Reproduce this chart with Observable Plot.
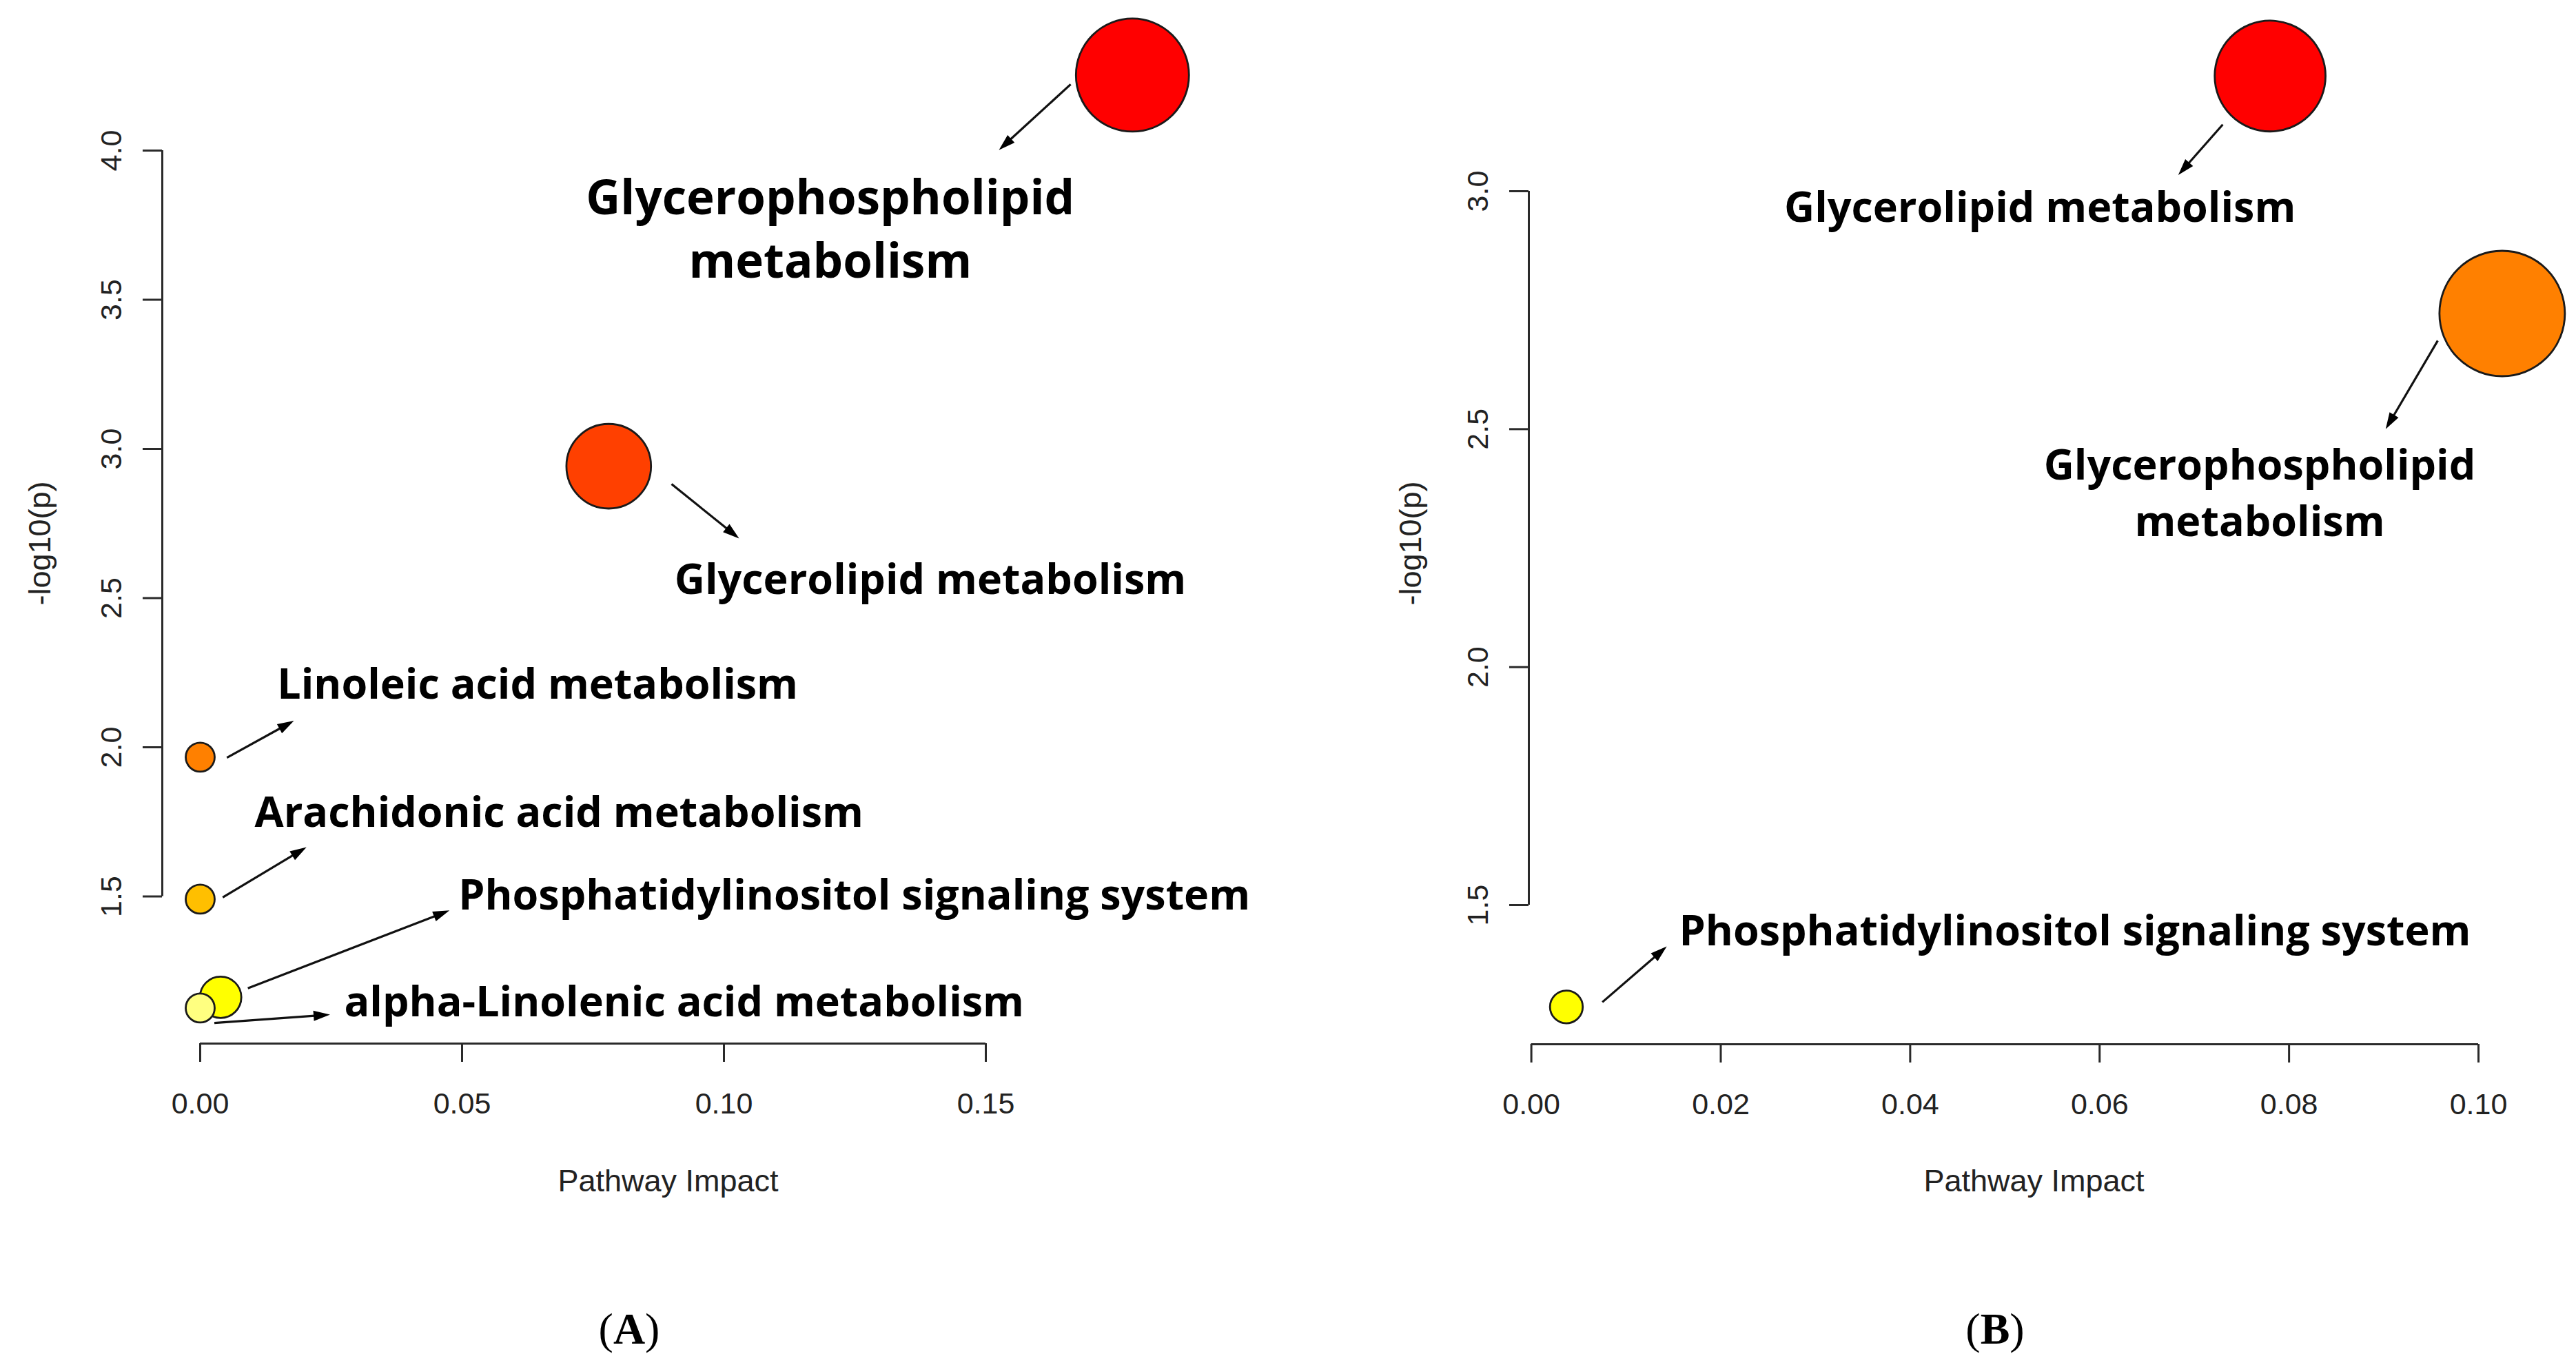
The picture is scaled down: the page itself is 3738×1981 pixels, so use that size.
<!DOCTYPE html>
<html>
<head>
<meta charset="utf-8">
<script src="https://cdn.jsdelivr.net/npm/d3@7"></script>
<script src="https://cdn.jsdelivr.net/npm/@observablehq/plot@0.6"></script>
<style>
  html, body { margin: 0; padding: 0; background: #fff; }
  #fig { position: relative; width: 3738px; height: 1981px; overflow: hidden; background: #fff; }
  .panel { position: absolute; top: 0; }
  .cap { position: absolute; top: 1897px; font-family: "Liberation Serif", "Times New Roman", serif; font-size: 64px; line-height: 1; transform: translateX(-50%); color: #000; }
</style>
</head>
<body>
<div id="fig">
  <div id="panelA" class="panel" style="left:0px"></div>
  <div id="panelB" class="panel" style="left:1869px"></div>
  <div class="cap" style="left:913px">(<b>A</b>)</div>
  <div class="cap" style="left:2895px">(<b>B</b>)</div>
</div>
<script>
// ---------------- Data: panel A ----------------
const pathwaysA = [
  "Glycerophospholipid metabolism",
  "Glycerolipid metabolism",
  "Linoleic acid metabolism",
  "Arachidonic acid metabolism",
  "Phosphatidylinositol signaling system",
  "alpha-Linolenic acid metabolism"
];
const impactA = [0.178, 0.078, 0.0, 0.0, 0.0039, 0.0];
const logpA   = [4.253, 2.942, 1.967, 1.491, 1.162, 1.126];
const xTicksA = [0.00, 0.05, 0.10, 0.15];
const yTicksA = [1.5, 2.0, 2.5, 3.0, 3.5, 4.0];

// ---------------- Data: panel B ----------------
const pathwaysB = [
  "Glycerolipid metabolism",
  "Glycerophospholipid metabolism",
  "Phosphatidylinositol signaling system"
];
const impactB = [0.078, 0.1025, 0.0037];
const logpB   = [3.242, 2.743, 1.286];
const xTicksB = [0.00, 0.02, 0.04, 0.06, 0.08, 0.10];
const yTicksB = [1.5, 2.0, 2.5, 3.0];

// ---------------- Annotation layout (data units) ----------------
// lx/ly: label anchor; sx/sy: arrow start; ax/ay: arrow tip
const annotA = {
  text:   ["Glycerophospholipid\nmetabolism", "Glycerolipid metabolism", "Linoleic acid metabolism",
           "Arachidonic acid metabolism", "Phosphatidylinositol signaling system", "alpha-Linolenic acid metabolism"],
  anchor: ["middle", "middle", "start", "start", "start", "start"],
  lx:     [0.1203, 0.1394, 0.0147, 0.0104, 0.0493, 0.0275],
  ly:     [3.574, 2.515, 2.162, 1.734, 1.455, 1.097],
  sx:     [0.1662, 0.0900, 0.0051, 0.0043, 0.0091, 0.0027],
  sy:     [4.222, 2.882, 1.965, 1.497, 1.192, 1.076],
  ax:     [0.1525, 0.1029, 0.0179, 0.0203, 0.0476, 0.0248],
  ay:     [4.002, 2.700, 2.089, 1.665, 1.453, 1.104],
  size:   [69, 61, 61, 61, 61, 61]
};
const annotB = {
  text:   ["Glycerolipid metabolism", "Glycerophospholipid\nmetabolism", "Phosphatidylinositol signaling system"],
  anchor: ["middle", "middle", "start"],
  lx:     [0.0537, 0.0769, 0.0156],
  ly:     [2.936, 2.276, 1.416],
  sx:     [0.0730, 0.0957, 0.0075],
  sy:     [3.140, 2.686, 1.296],
  ax:     [0.0683, 0.0902, 0.0143],
  ay:     [3.034, 2.500, 1.413],
  size:   [61, 61, 61]
};

// ---------------- Styles ----------------
const heat6 = ["#FF0000", "#FF4000", "#FF8000", "#FFBF00", "#FFFF00", "#FFFF80"];
const heat3 = ["#FF0000", "#FF8000", "#FFFF00"];
const AXIS = "#2a2a2a";
const SANS = "'Liberation Sans', Arial, sans-serif";
const LABELFONT = "'Open Sans', 'Noto Sans', sans-serif";

// filled arrowhead: tip at the origin, pointing up
const HEAD_L = 24, HEAD_W = 15;
const headSymbol = {
  draw(ctx) {
    ctx.moveTo(0, 0);
    ctx.lineTo(HEAD_W / 2, HEAD_L);
    ctx.lineTo(-HEAD_W / 2, HEAD_L);
    ctx.closePath();
  }
};

function panel(cfg) {
  const {names, impact, logp, xTicks, yTicks, annot, palette, W, H,
         xRange, yRange, axisX, axisY, rRange, xFmt, ylab, xlab} = cfg;
  const rows = names.map((n, i) => ({
    name: n, impact: impact[i], logp: logp[i],
    label: annot.text[i], anchor: annot.anchor[i],
    lx: annot.lx[i], ly: annot.ly[i], sx: annot.sx[i], sy: annot.sy[i],
    ax: annot.ax[i], ay: annot.ay[i], size: annot.size[i]
  }));
  const rMax = d3.max(impact);
  const xLast = xTicks[xTicks.length - 1];
  const yLast = yTicks[yTicks.length - 1];
  const X = d3.scaleLinear().domain([xTicks[0], xLast]).range(xRange);
  const Y = d3.scaleLinear().domain([yTicks[0], yLast]).range(yRange);
  const angle = d => Math.atan2(X(d.ax) - X(d.sx), -(Y(d.ay) - Y(d.sy))) * 180 / Math.PI;
  const marginLeft = axisY;
  const marginBottom = H - axisX;
  const marginTop = 20;

  const marks = [
    // axis lines spanning first..last tick (R style)
    Plot.ruleY([yTicks[0]], {x1: xTicks[0], x2: xLast, dy: axisX - yRange[0], stroke: AXIS, strokeWidth: 3}),
    Plot.ruleX([xTicks[0]], {y1: yTicks[0], y2: yLast, dx: axisY - xRange[0], stroke: AXIS, strokeWidth: 3}),
    Plot.axisX({ticks: xTicks, tickFormat: d3.format(xFmt), tickSize: 27, tickPadding: 44, label: null,
                fontSize: 43, fontFamily: SANS, stroke: AXIS, strokeWidth: 3, fill: "#222"}),
    Plot.axisY({ticks: yTicks, tickFormat: d3.format(".1f"), tickSize: 28, tickPadding: 32, tickRotate: -90, label: null,
                fontSize: 43, fontFamily: SANS, stroke: AXIS, strokeWidth: 3, fill: "#222"}),
    // axis titles
    Plot.text([ylab.text], {frameAnchor: "top-left", dx: ylab.x - marginLeft, dy: ylab.y - marginTop,
                rotate: -90, fontSize: 45, fontFamily: SANS, fill: "#222", textAnchor: "middle", lineAnchor: "middle"}),
    Plot.text([xlab.text], {frameAnchor: "top-left", dx: xlab.x - marginLeft, dy: xlab.y - marginTop,
                fontSize: 45, fontFamily: SANS, fill: "#222", textAnchor: "middle", lineAnchor: "middle"}),
    // arrow shafts
    Plot.arrow(rows, {x1: "sx", y1: "sy", x2: "ax", y2: "ay", insetEnd: 12, headLength: 0,
                stroke: "#111", strokeWidth: 3.2, strokeLinecap: "butt"}),
    // filled arrow heads
    Plot.dot(rows, {x: "ax", y: "ay", symbol: headSymbol, rotate: angle, fill: "#000", stroke: "none", r: 8}),
    // bubbles
    Plot.dot(rows, {x: "impact", y: "logp", r: "impact", fill: "name", stroke: "#1a1a1a", strokeWidth: 2.8}),
    // labels
    Plot.text(rows.filter(d => d.anchor === "middle"), {x: "lx", y: "ly", text: "label", textAnchor: "middle",
                lineAnchor: "bottom", lineHeight: 1.33, fontSize: "size", fontWeight: "bold", fontFamily: LABELFONT, fill: "#000"}),
    Plot.text(rows.filter(d => d.anchor === "start"), {x: "lx", y: "ly", text: "label", textAnchor: "start",
                lineAnchor: "bottom", lineHeight: 1.33, fontSize: "size", fontWeight: "bold", fontFamily: LABELFONT, fill: "#000"})
  ];

  return Plot.plot({
    width: W, height: H,
    marginLeft, marginBottom, marginTop, marginRight: 20,
    x: {domain: [xTicks[0], xLast], range: xRange},
    y: {domain: [yTicks[0], yLast], range: yRange},
    r: {type: "sqrt", domain: [0, rMax], range: rRange},
    color: {type: "ordinal", domain: names, range: palette},
    style: {background: "transparent", overflow: "visible", color: AXIS},
    marks
  });
}

document.getElementById("panelA").appendChild(panel({
  names: pathwaysA, impact: impactA, logp: logpA, xTicks: xTicksA, yTicks: yTicksA,
  annot: annotA, palette: heat6, W: 1869, H: 1860,
  xRange: [290, 1430], yRange: [1300.5, 218], axisX: 1514, axisY: 235,
  rRange: [21, 82], xFmt: ".2f",
  ylab: {text: "-log10(p)", x: 58, y: 788},
  xlab: {text: "Pathway Impact", x: 969, y: 1714}
}));

document.getElementById("panelB").appendChild(panel({
  names: pathwaysB, impact: impactB, logp: logpB, xTicks: xTicksB, yTicks: yTicksB,
  annot: annotB, palette: heat3, W: 1869, H: 1860,
  xRange: [352.6, 1727], yRange: [1313, 277], axisX: 1515, axisY: 349,
  rRange: [8, 91], xFmt: ".2f",
  ylab: {text: "-log10(p)", x: 178, y: 788},
  xlab: {text: "Pathway Impact", x: 1082, y: 1714}
}));
</script>
</body>
</html>
